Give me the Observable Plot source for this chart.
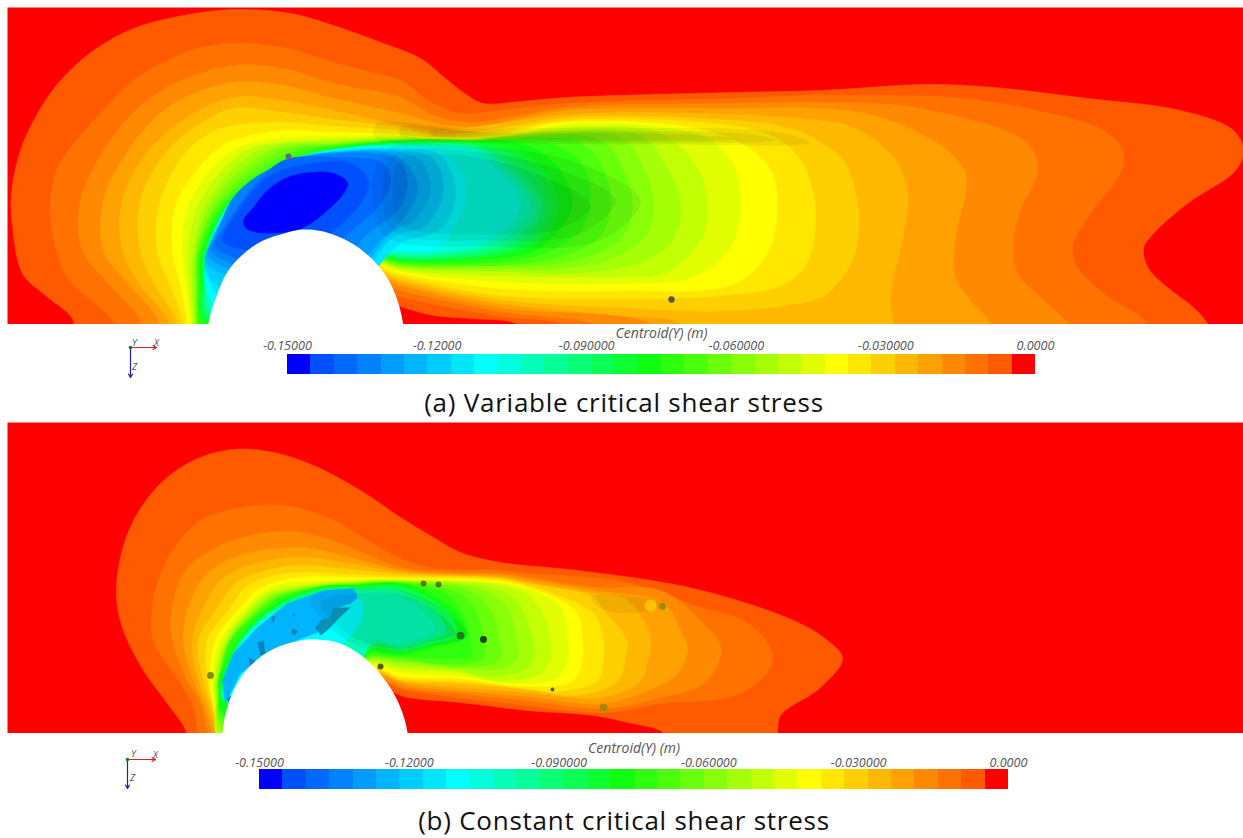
<!DOCTYPE html>
<html><head><meta charset="utf-8">
<script src="https://cdn.jsdelivr.net/npm/d3@7"></script>
<script src="https://cdn.jsdelivr.net/npm/@observablehq/plot@0.6"></script>
<style>
html,body{margin:0;padding:0;background:#fff;width:1243px;height:838px;overflow:hidden}
#page{position:relative;width:1243px;height:838px}
#page svg{position:absolute;display:block;background:transparent}
g[aria-label="smudge"]{filter:blur(1px)}
.cap{position:absolute;left:0;width:1248px;text-align:center;font:26px "Open Sans",sans-serif;letter-spacing:0.75px;color:#111;white-space:pre}
</style></head><body><div id="page"></div>
<script>
// Colour bar: 32 bands from -0.15 m to 0 m
const bandCount = 32;
const barMin = -0.15, barMax = 0;
const tickValues = [-0.15,-0.12,-0.09,-0.06,-0.03,0];
const tickLabels = ["-0.15000","-0.12000","-0.090000","-0.060000","-0.030000","0.0000"];
const stopBands = [0,1,8,15,23,30,31];
const stopColors = ["#0000ff","#0050ff","#00ffff","#10ff10","#ffff00","#ff5a00","#ff0000"];
const captions = ["(a) Variable critical shear stress","(b) Constant critical shear stress"];

// Panel (a): contour outlines, scour depth band -> outline (reference-scale positions along the flume)
const a30=[[77,340],[72,318],[45,295],[22,273],[12,225],[11,193],[20,150],[37,113],[60,80],[93,50],[133,28],[183,15],[233,9],[290,13],[333,25],[383,43],[420,58],[445,78],[467,95],[483,103],[520,101],[567,97],[733,92],[820,90],[927,84],[993,87],[1087,98],[1180,110],[1233,130],[1243,150],[1235,170],[1187,203],[1153,233],[1143,248],[1148,268],[1167,287],[1193,307],[1208,324],[1220,345],[530,345],[517,324],[470,318],[433,315],[403,307],[370,298],[350,345]];
const a29=[[118,345],[112,320],[67,277],[52,233],[50,200],[57,167],[68,150],[87,127],[133,80],[167,60],[200,47],[233,43],[283,47],[333,62],[383,75],[400,80],[433,103],[460,113],[500,110],[567,103],[733,98],[820,95],[963,98],[1050,113],[1103,130],[1122,150],[1120,172],[1087,217],[1072,247],[1077,267],[1103,293],[1147,323],[1155,345],[575,345],[560,324],[500,316],[400,296],[365,285],[350,345]];
const a28=[[143,345],[140,320],[110,285],[82,250],[80,200],[103,150],[133,112],[170,85],[233,65],[283,68],[333,83],[400,97],[433,115],[470,122],[520,115],[567,107],[733,103],[820,102],[920,108],[1027,143],[1037,170],[1020,210],[1012,247],[1017,273],[1040,297],[1067,323],[1075,345],[615,345],[600,326],[500,311],[400,290],[365,280],[350,345]];
const a27=[[160,345],[158,320],[125,280],[103,250],[103,200],[128,150],[170,105],[233,82],[283,85],[333,98],[400,113],[440,124],[480,126],[520,118],[567,110],[733,108],[820,108],[880,117],[947,150],[965,173],[965,193],[955,237],[955,277],[970,300],[990,323],[1000,345],[665,345],[650,323],[500,307],[400,285],[365,275],[350,345]];
const a26=[[170,345],[168,320],[140,285],[122,250],[122,200],[148,150],[190,115],[233,97],[283,100],[333,110],[400,125],[440,130],[500,123],[567,114],[700,113],[820,120],[853,127],[893,157],[907,193],[903,233],[890,297],[893,323],[895,345],[690,345],[680,323],[620,315],[500,303],[400,282],[365,272],[350,345]];
const a25=[[177,345],[176,320],[155,285],[140,250],[140,200],[167,150],[205,120],[233,108],[283,112],[333,119],[400,127],[440,134],[500,128],[567,117],[700,118],[790,128],[825,145],[843,160],[858,210],[853,257],[835,285],[820,297],[733,310],[620,307],[500,299],[400,279],[362,268],[350,345]];
const a24=[[183,345],[182,320],[170,285],[157,250],[160,200],[187,150],[215,130],[233,125],[283,122],[333,126],[400,130],[440,136],[500,131],[567,120],[700,122],[770,135],[800,160],[815,210],[805,265],[780,285],[720,295],[620,298],[500,295],[400,276],[362,266],[350,345]];
const a23=[[188,345],[187,320],[180,285],[172,250],[177,200],[215,150],[233,140],[283,130],[333,132],[400,134],[440,138],[500,134],[567,122],[690,127],[745,145],[770,170],[777,205],[768,250],[735,283],[620,290],[500,288],[400,273],[362,262],[350,345]];
const a22=[[191,345],[190,320],[186,285],[182,250],[190,200],[233,150],[283,138],[333,136],[400,136],[440,139],[500,136],[567,124],[670,128],[710,140],[733,165],[740,205],[728,250],[690,277],[620,283],[500,281],[400,271],[362,260],[350,345]];
const a21=[[193,345],[192,320],[189,285],[188,250],[200,200],[245,150],[283,142],[333,139],[400,137],[440,140],[500,138],[567,127],[660,133],[695,165],[707,205],[700,240],[665,272],[620,276],[500,275],[400,269],[360,258],[345,345]];
const a20=[[195,345],[194,320],[192,285],[193,250],[208,200],[258,150],[333,141],[400,138],[450,140],[500,137],[567,130],[640,135],[665,165],[680,205],[672,240],[640,262],[580,272],[500,271],[400,267],[360,257],[345,345]];
const a19=[[196,345],[195,320],[194,285],[195,250],[213,200],[270,150],[333,143],[400,139],[450,141],[530,135],[620,137],[642,165],[653,205],[645,235],[610,258],[560,268],[500,268],[400,266],[360,256],[345,345]];
const a18=[[197,345],[196,320],[196,285],[197,250],[218,200],[282,150],[333,144],[400,140],[450,142],[500,138],[600,140],[622,168],[632,205],[622,235],[590,255],[540,265],[500,265],[400,265],[360,255],[345,345]];
const a17=[[198,345],[197,320],[197,285],[198,250],[222,200],[295,150],[333,145],[400,140],[450,143],[500,139],[580,143],[603,170],[610,205],[600,235],[570,252],[520,263],[400,263],[360,254],[345,345]];
const a16=[[199,345],[198,320],[198,285],[200,250],[226,200],[308,150],[333,146],[400,141],[450,144],[500,140],[560,147],[585,170],[590,205],[580,230],[550,250],[510,260],[400,262],[360,254],[345,345]];
const a15=[[205,345],[203,320],[200,285],[202,250],[230,200],[250,187],[290,163],[333,148],[377,142],[420,139],[480,140],[500,140],[533,148],[560,170],[572,205],[562,225],[535,250],[490,258],[400,260],[360,252],[340,320]];
const a14=[[204,320],[201,285],[204,250],[232,198],[292,161],[333,149],[377,143],[420,141],[480,143],[520,152],[548,175],[558,205],[550,230],[525,248],[490,256],[400,259],[360,250],[340,320]];
const a13=[[206,318],[203,285],[205,250],[233,197],[293,160],[333,149],[377,144],[420,142],[480,145],[515,156],[540,180],[548,205],[540,232],[515,248],[480,255],[400,258],[360,249],[340,320]];
const a12=[[207,315],[204,285],[205,252],[234,196],[294,159],[333,149],[420,143],[480,147],[510,162],[532,185],[542,205],[530,232],[505,247],[470,254],[400,257],[360,248],[340,320]];
const a11=[[208,310],[205,285],[206,255],[235,195],[295,158],[333,149],[420,144],[480,148],[510,168],[528,190],[537,207],[522,232],[498,246],[460,253],[400,256],[360,247],[340,320]];
const a10=[[215,320],[206,295],[205,270],[207,250],[236,194],[296,158],[333,149],[420,145],[480,150],[505,170],[523,190],[530,207],[512,232],[485,246],[450,252],[400,254],[358,246],[340,320]];
const a09=[[218,315],[205,290],[205,268],[207,252],[237,193],[296,159],[333,150],[420,146],[470,151],[500,172],[516,190],[520,207],[500,232],[470,246],[430,252],[400,252],[358,245],[340,320]];
const a08=[[220,310],[207,285],[207,262],[221,225],[250,190],[290,165],[333,150],[400,146],[445,153],[460,172],[466,195],[455,225],[440,245],[400,250],[355,243],[340,300]];
const a07=[[225,300],[206,275],[206,258],[223,222],[252,188],[292,163],[333,151],[400,148],[440,155],[455,195],[440,228],[400,243],[350,290]];
const a06=[[225,290],[205,268],[207,252],[224,218],[254,186],[294,161],[335,151],[400,150],[432,158],[443,190],[425,225],[395,235],[350,280]];
const a05=[[230,275],[205,262],[209,245],[228,210],[258,182],[297,159],[338,152],[400,152],[420,160],[430,190],[415,218],[390,233],[350,275]];
const a04=[[235,270],[207,255],[212,240],[232,203],[262,177],[300,157],[338,152],[395,155],[417,185],[405,215],[380,240],[345,272]];
const a03=[[240,265],[210,250],[216,235],[233,197],[267,170],[333,153],[397,160],[407,183],[397,210],[363,237],[340,270]];
const a02=[[245,260],[215,245],[225,225],[250,190],[283,160],[333,157],[383,163],[390,183],[377,207],[347,233],[320,260]];
const a01=[[250,250],[222,240],[235,215],[267,177],[310,163],[350,163],[368,180],[360,203],[333,230],[300,250]];
const a00=[[243,220],[253,207],[267,190],[287,177],[310,172],[333,173],[347,182],[343,193],[330,207],[310,223],[293,230],[257,232],[245,227]];
const obstacleA=[[208,345],[208,323],[217,293],[230,267],[257,243],[287,232],[303,229],[323,231],[350,242],[373,260],[390,283],[402,320],[402,345]];
const specksA=[[288,156,0.6,"#667"],[671,299,0.7,"#555"]];
// soft shading visible on the mesh: wake core and the dull ridge above it
const shadeA=[
  [[385,150],[470,146],[570,160],[640,200],[600,240],[490,246],[385,236],[372,195]],
  [[392,155],[470,151],[555,168],[615,200],[580,233],[490,240],[392,230],[382,195]],
  [[400,160],[470,156],[540,175],[590,205],[560,228],[490,234],[400,224],[392,195]],
  [[375,124],[470,128],[600,127],[780,132],[810,142],[640,144],[470,142],[375,138]],
  [[400,127],[480,131],[600,130],[750,134],[775,140],[640,142],[480,140],[400,135]],
  [[430,130],[500,133],[600,132],[720,136],[740,139],[640,140],[500,138],[430,134]]
];

// Panel (b)
const b30=[[186,750],[186,732],[167,703],[143,670],[123,630],[116,597],[120,557],[133,520],[160,483],[193,460],[233,449],[273,452],[313,465],[360,490],[400,517],[433,537],[460,552],[500,562],[577,570],[693,588],[793,620],[827,640],[842,658],[820,687],[780,715],[777,732],[775,750],[665,750],[662,732],[627,722],[593,715],[527,710],[460,702],[407,697],[380,690],[360,745]];
const b29=[[197,750],[197,732],[193,707],[178,680],[153,640],[152,607],[155,590],[170,553],[200,520],[240,507],[283,505],[327,517],[367,540],[400,558],[433,568],[500,570],[527,573],[627,582],[700,607],[743,620],[767,643],[772,660],[760,680],[727,697],[660,703],[603,712],[527,705],[460,697],[407,690],[380,684],[360,745]];
const b28=[[207,750],[207,732],[200,703],[187,680],[172,640],[172,607],[185,570],[220,545],[260,533],[300,532],[340,543],[400,567],[450,572],[500,573],[527,577],[593,587],[660,590],[700,620],[720,645],[720,657],[703,683],[660,697],[603,708],[527,700],[460,693],[407,688],[380,682],[360,745]];
const b27=[[212,750],[212,732],[203,703],[193,680],[183,640],[188,607],[205,575],[240,555],[300,547],[350,557],[400,570],[450,574],[500,575],[527,579],[593,590],[663,603],[680,630],[687,650],[677,673],[647,690],[603,703],[527,696],[460,690],[407,685],[378,678],[360,745]];
const b26=[[215,750],[215,732],[207,703],[198,680],[192,640],[203,607],[220,580],[255,563],[300,557],[350,563],[400,572],[500,577],[527,582],[593,593],[627,600],[650,637],[648,657],[640,680],[600,697],[527,692],[460,687],[407,682],[378,675],[360,745]];
const b25=[[217,750],[217,732],[210,703],[203,680],[198,640],[217,607],[235,583],[265,570],[300,565],[350,569],[400,574],[500,578],[527,583],[593,597],[603,610],[625,637],[625,657],[617,680],[577,695],[527,689],[460,683],[400,680],[375,672],[355,745]];
const b24=[[218,750],[218,732],[212,703],[207,680],[207,640],[230,607],[245,587],[270,576],[300,572],[350,574],[400,576],[500,579],[527,585],[570,600],[593,613],[603,640],[603,657],[597,680],[553,691],[527,688],[460,681],[400,678],[375,670],[355,745]];
const b23=[[219,750],[219,732],[213,703],[210,680],[215,640],[240,607],[256,590],[275,582],[300,577],[350,577],[400,578],[500,581],[527,587],[560,600],[577,613],[582,640],[582,657],[573,680],[527,686],[460,678],[400,676],[373,668],[355,745]];
const b22=[[220,745],[219,732],[214,703],[212,680],[220,640],[246,607],[262,592],[280,584],[300,582],[350,580],[400,579],[500,583],[540,593],[560,607],[567,635],[567,657],[557,677],[510,683],[460,675],[400,672],[370,665],[350,735]];
const b21=[[220,740],[215,703],[214,680],[224,640],[252,605],[268,592],[300,585],[350,581],[400,580],[500,585],[530,597],[545,620],[550,657],[540,673],[493,680],[460,672],[400,668],[368,663],[350,735]];
const b20=[[220,735],[216,700],[216,680],[226,640],[255,605],[270,594],[300,587],[350,582],[400,581],[490,587],[515,600],[528,625],[533,657],[522,670],[480,675],[460,670],[400,665],[366,662],[350,730]];
const b19=[[221,730],[217,700],[217,680],[228,640],[257,607],[272,595],[300,588],[350,583],[400,581],[480,589],[505,605],[514,630],[517,657],[505,667],[470,668],[400,662],[365,661],[350,730]];
const b18=[[222,725],[218,695],[218,680],[229,640],[258,608],[274,596],[300,589],[350,584],[400,582],[470,591],[490,610],[498,635],[500,657],[490,664],[460,666],[400,660],[363,660],[350,725]];
const b17=[[222,720],[218,690],[219,680],[230,640],[259,610],[276,597],[300,590],[350,584],[400,582],[460,594],[477,615],[483,640],[483,657],[472,662],[440,663],[400,658],[362,659],[350,720]];
const b16=[[223,715],[219,690],[220,680],[231,640],[260,611],[278,598],[300,591],[350,585],[400,583],[450,597],[465,620],[470,640],[470,657],[460,658],[430,658],[400,656],[360,658],[345,715]];
const b15=[[223,712],[219,690],[218,680],[233,647],[257,617],[287,597],[327,585],[353,585],[400,583],[433,595],[460,617],[465,637],[433,647],[400,655],[367,653],[345,690]];
const b13=[[222,700],[222,680],[236,645],[260,617],[290,598],[328,587],[355,587],[398,586],[428,598],[452,618],[455,635],[430,644],[400,651],[370,648],[345,690]];
const b11=[[224,700],[224,680],[238,644],[262,617],[292,600],[330,589],[357,589],[395,590],[422,602],[442,620],[445,632],[425,641],[400,647],[372,644],[345,690]];
const b10=[[225,700],[225,680],[240,643],[264,617],[294,602],[332,591],[358,592],[392,594],[416,606],[432,622],[435,630],[420,638],[398,643],[372,641],[345,690]];
const b08=[[226,700],[228,680],[242,642],[268,617],[298,603],[325,593],[350,590],[362,605],[358,625],[345,640],[300,680]];
const b05=[[225,703],[222,680],[233,653],[257,627],[287,603],[323,590],[353,588],[357,597],[350,603],[333,608],[330,617],[318,622],[317,632],[300,638],[260,657],[240,673]];
const darkPatchesB=[
  [[333,607],[330,617],[320,620],[315,627],[320,635],[327,630],[338,618],[350,607]],
  [[257,642],[263,640],[265,653],[260,655]],
  [[270,617],[275,615],[273,623]],
  [[292,612],[295,615],[293,617]],
  [[292,628],[297,630],[295,635],[291,633]],
  [[248,657],[255,660],[250,667]],
  [[226,697],[232,695],[228,703]]
];
const obstacleB=[[222,750],[222,732],[228,703],[243,673],[270,650],[300,640],[317,639],[340,643],[367,660],[387,683],[400,707],[407,732],[407,750]];
const specksB=[[650,605,6,"#ffc000"],[423,583,1.5,"#5a7a10"],[438,584,1.5,"#5a7a10"],[460,635,2.5,"#207a20"],[483,639,2,"#204020"],[380,666,1.5,"#506010"],[210,675,2,"#7a9010"],[662,606,2,"#a08a00"],[603,707,2.5,"#a08a00"],[552,689,0.6,"#555"]];
const shadeB=[
  [[310,598],[400,590],[445,610],[468,635],[430,646],[400,652],[350,642]],
  [[320,602],[400,594],[438,613],[455,633],[425,642],[400,648],[355,638]],
  [[590,596],[640,597],[665,603],[640,612],[600,608]]
];

const contoursA=[[30,a30],[29,a29],[28,a28],[27,a27],[26,a26],[25,a25],[24,a24],[23,a23],[22,a22],[21,a21],[20,a20],[19,a19],[18,a18],[17,a17],[16,a16],[15,a15],[14,a14],[13,a13],[12,a12],[11,a11],[10,a10],[9,a09],[8,a08],[7,a07],[6,a06],[5,a05],[4,a04],[3,a03],[2,a02],[1,a01],[0,a00]];
const contoursB=[[30,b30],[29,b29],[28,b28],[27,b27],[26,b26],[25,b25],[24,b24],[23,b23],[22,b22],[21,b21],[20,b20],[19,b19],[18,b18],[17,b17],[16,b16],[15,b15],[13,b13],[11,b11],[10,b10],[8,b08],[5,b05]];

const step=(barMax-barMin)/bandCount;
const bandValue=i=>barMin+(i+0.5)*step;
const colorOpt={type:"linear",domain:stopBands.map(bandValue),range:stopColors,interpolate:"rgb"};
const px=d=>d[0], py=d=>d[1];
const page=document.getElementById("page");
function place(svg,left,top){svg.style.left=left+"px";svg.style.top=top+"px";page.appendChild(svg);return svg;}

function panel(contours,obstacle,specks,patches,shades,top,bottom){
  const marks=[Plot.frame({fill:"#ff0000",stroke:"none"})];
  for(const [band,pts] of contours){
    const v=bandValue(band);
    marks.push(Plot.line(pts,{x:px,y:py,z:null,fill:()=>v,stroke:()=>v,strokeWidth:0.6,curve:band===5&&patches.length?"linear":"catmull-rom-closed",clip:true}));
  }
  for(const s of shades) marks.push(Plot.line(s,{x:px,y:py,fill:"#000",fillOpacity:0.06,stroke:"none",curve:"catmull-rom-closed"}));
  for(const p of patches) marks.push(Plot.line(p,{x:px,y:py,fill:"#0a78a8",fillOpacity:0.8,stroke:"none",curve:"linear",clip:true}));
  marks.push(Plot.dot(specks,{x:px,y:py,r:d=>d[2],fill:d=>d[3],stroke:"none",ariaLabel:"smudge"}));
  marks.push(Plot.line(obstacle,{x:px,y:py,fill:"#fff",stroke:"none",curve:"catmull-rom-closed",clip:true}));
  const svg=Plot.plot({width:1243,height:bottom-top+7,marginLeft:7,marginTop:7,marginRight:0,marginBottom:0,
    x:{axis:null,domain:[7,1243]},y:{axis:null,domain:[bottom,top]},color:colorOpt,marks});
  svg.style.filter="blur(0.7px)";
  return svg;
}
function colorBar(left,right,top,bottom,titleY,tickY){
  const y0=titleY-12;
  const vals=d3.range(bandCount);
  return Plot.plot({width:1243,height:bottom-y0+2,marginLeft:left,marginRight:1243-right,marginTop:0,marginBottom:0,
    x:{axis:null,domain:[barMin,barMax]},y:{axis:null,domain:[bottom+2,y0],range:[bottom-y0+2,0]},color:colorOpt,
    marks:[
      Plot.rect(vals,{x1:i=>barMin+i*step,x2:i=>barMin+(i+1)*step,y1:()=>top,y2:()=>bottom,fill:i=>bandValue(i),shapeRendering:"crispEdges"}),
      Plot.text(tickValues,{x:d=>d,y:()=>tickY,text:(d,i)=>tickLabels[i],fontSize:12.6,fontStyle:"italic",fontFamily:"Open Sans",fill:"#555"}),
      Plot.text(["Centroid(Y) (m)"],{x:()=>(barMin+barMax)/2,y:()=>titleY,text:d=>d,fontSize:14,fontStyle:"italic",fontFamily:"Open Sans",fill:"#555"})
    ]});
}
function triad(ox,oy,xe,ze,labels){
  return Plot.plot({width:50,height:50,margin:0,x:{axis:null,domain:[0,50]},y:{axis:null,domain:[50,0]},
    marks:[
      Plot.arrow([0],{x1:()=>ox,y1:()=>oy,x2:()=>xe,y2:()=>oy,stroke:"#d02030",strokeWidth:1.2,headLength:5,bend:0}),
      Plot.arrow([0],{x1:()=>ox,y1:()=>oy,x2:()=>ox,y2:()=>ze,stroke:"#2020c0",strokeWidth:1.2,headLength:5,bend:0}),
      Plot.dot([0],{x:()=>ox,y:()=>oy,r:1.8,fill:"#108010"}),
      Plot.text(labels,{x:px,y:py,text:d=>d[2],fontSize:9.5,fontStyle:"italic",fontFamily:"Open Sans",fill:"#555"})
    ]});
}
// Panel a
place(panel(contoursA,obstacleA,specksA,[],shadeA,7,324),0,0);
place(colorBar(287,1035,354,374,333,345),0,321);
place(triad(15,12,41,42,[[19,7,"Y"],[41,7,"X"],[19,31,"Z"]]),115,335);
// Panel b
place(panel(contoursB,obstacleB,specksB,darkPatchesB,shadeB,422,733),0,415);
place(colorBar(259,1008,769,789,748,762),0,736);
place(triad(12,14,40,43,[[18,8,"Y"],[40,9,"X"],[17,32,"Z"]]),115,745);
// Captions
captions.forEach((c,i)=>{const d=document.createElement("div");d.className="cap";d.textContent=c;d.style.top=(i?802:384)+"px";page.appendChild(d);});
</script></body></html>
